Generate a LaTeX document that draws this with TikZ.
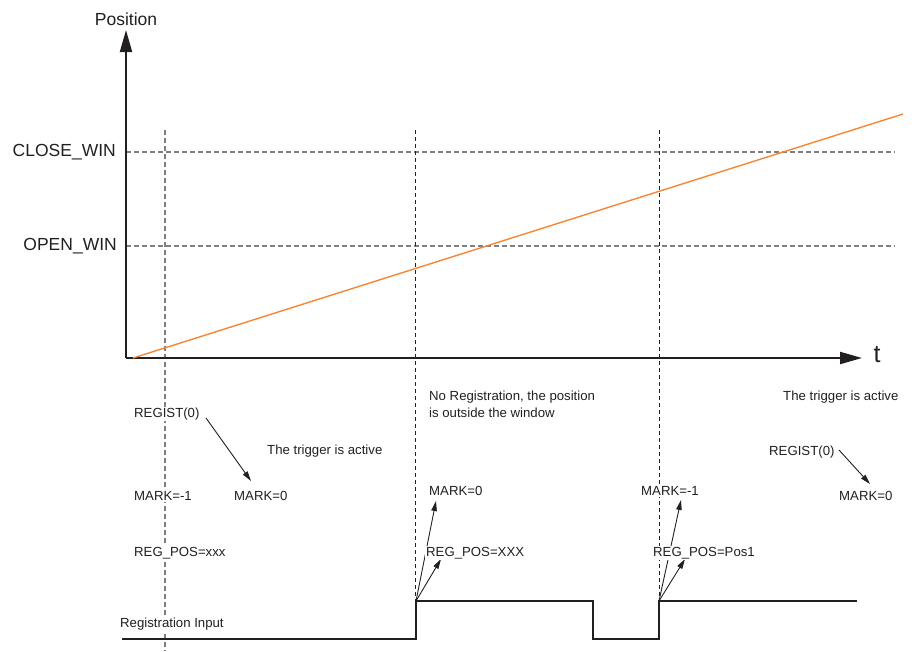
\documentclass[tikz,border=0pt]{standalone}
\usepackage{fontspec}
\setmainfont{Liberation Sans}
\usetikzlibrary{arrows.meta}
\definecolor{axisc}{HTML}{231F20}
\definecolor{orangec}{HTML}{F58634}
\definecolor{gridc}{HTML}{7F7F7F}
\tikzset{
  axisline/.style={draw=axisc, line width=2pt, -{Triangle[length=22pt,width=12pt]}},
  griddash/.style={draw=gridc, line width=1.2pt, dash pattern=on 4.5pt off 3.5pt},
  vdash/.style={draw=axisc, line width=0.9pt, dash pattern=on 4pt off 3pt},
  sig/.style={draw=axisc, line width=1.8pt},
  smallarrow/.style={draw=axisc, line width=0.9pt, -{Triangle[length=10pt,width=5.5pt]}},
  lbl/.style={font=\fontsize{13.2}{15}\selectfont, text=axisc, anchor=west, inner sep=1pt},
  wlbl/.style={lbl, fill=white},
  biglbl/.style={font=\fontsize{17.5}{20}\selectfont, text=axisc, inner sep=0pt},
}
\begin{document}
\begin{tikzpicture}[x=1pt,y=-1pt]
\useasboundingbox (0,0) rectangle (912,651);
% grid lines
\draw[griddash] (126,152) -- (895,152);
\draw[griddash] (126,246) -- (895,246);
\draw[griddash] (165,130) -- (165,651);
\draw[vdash] (415,130) -- (415,601);
\draw[vdash] (659,130) -- (659,601);
% axes
\coordinate (o) at (126,358);
\coordinate (ytip) at (126,30);
\coordinate (xtip) at (862,358);
\draw[axisline] (o) -- (ytip);
\draw[axisline] (o) -- (xtip);
\node[biglbl] (pos) at (126,19) {Position};
\node[font=\fontsize{25}{28}\selectfont, text=axisc, inner sep=0pt] (t) at (877,355) {t};
\node[biglbl, anchor=east] (close) at (116,152) {CLOSE\_WIN};
\node[biglbl, anchor=east] (open) at (117,246) {OPEN\_WIN};
% orange position ramp
\coordinate (r0) at (133,358);
\coordinate (r1) at (903,114);
\draw[orangec, line width=1.4pt] (r0) -- (r1);
% registration input signal
\draw[sig] (122,639) -- (416,639) -- (416,601) -- (593,601) -- (593,639) -- (659,639) -- (659,601) -- (857,601);
\coordinate (e1) at (416,601);
\coordinate (e2) at (659,601);
% arrows (drawn before labels so that labels mask them)
\coordinate (a1s) at (206,418);
\coordinate (a1e) at (251,481);
\draw[smallarrow] (a1s) -- (a1e);
\coordinate (a2e) at (436,501);
\coordinate (a3e) at (441,559);
\draw[smallarrow] (e1) -- (a2e);
\draw[smallarrow] (e1) -- (a3e);
\coordinate (a4e) at (681,500);
\coordinate (a5e) at (685,559);
\draw[smallarrow] (e2) -- (a4e);
\draw[smallarrow] (e2) -- (a5e);
\coordinate (a6s) at (839,450);
\coordinate (a6e) at (870,484);
\draw[smallarrow] (a6s) -- (a6e);
% left group
\node[wlbl] (reg1) at (133,414) {REGIST(0)};
\node[lbl] (trig1) at (266,451) {The trigger is active};
\node[wlbl] (markm1) at (133,496) {MARK=-1};
\node[lbl] (mark0a) at (233,496) {MARK=0};
\node[wlbl] (regpos1) at (133,553) {REG\_POS=xxx};
\node[wlbl] (reginput) at (119,624) {Registration Input};
% middle group
\node[lbl] (noreg1) at (428,397) {No Registration, the position};
\node[lbl] (noreg2) at (428,413) {is outside the window};
\node[wlbl] (mark0b) at (428,491) {MARK=0};
\node[wlbl] (regpos2) at (425,553) {REG\_POS=XXX};
% right group
\node[wlbl] (markm1b) at (640,491) {MARK=-1};
\node[wlbl] (regpos3) at (652,553) {REG\_POS=Pos1};
\node[lbl] (trig2) at (782,397) {The trigger is active};
\node[lbl] (reg2) at (768,452) {REGIST(0)};
\node[lbl] (mark0c) at (838,496) {MARK=0};
\end{tikzpicture}
\end{document}
